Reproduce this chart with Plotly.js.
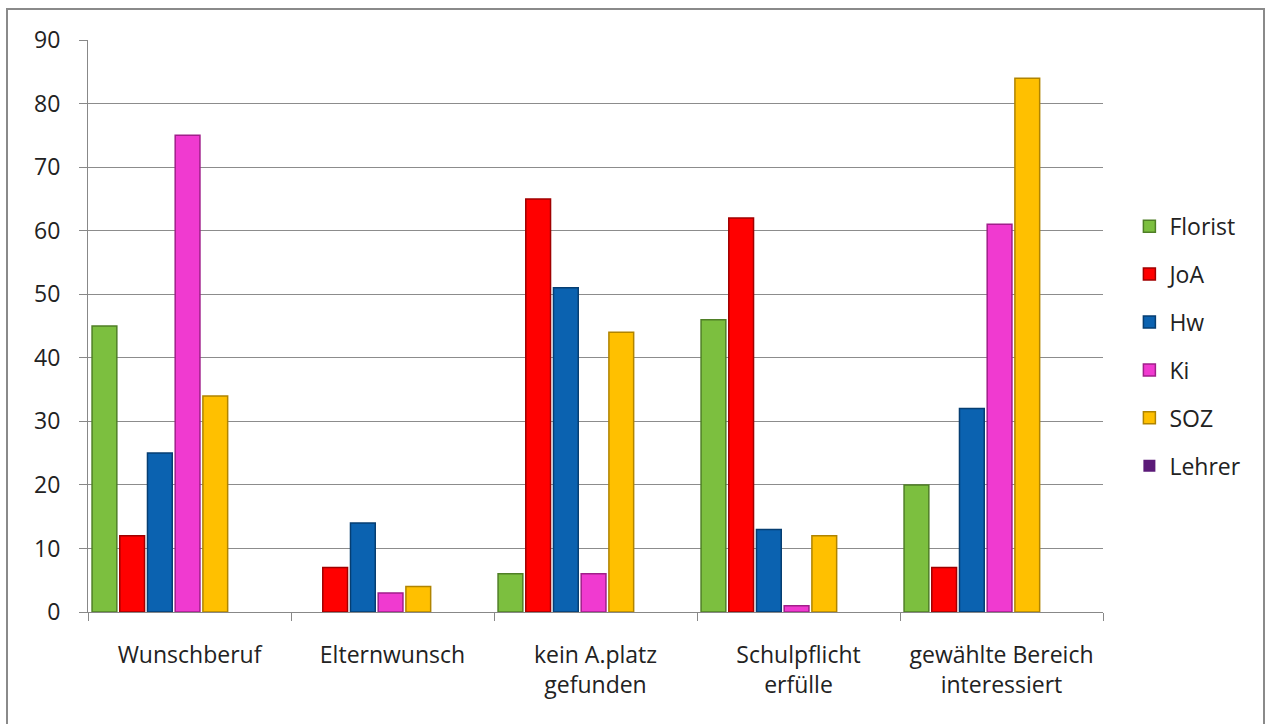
<!DOCTYPE html>
<html><head><meta charset="utf-8">
<script src="https://cdn.plot.ly/plotly-3.0.1.min.js"></script>
<style>
html,body{margin:0;padding:0;background:#fff;overflow:hidden;}
#chart{width:1266px;height:724px;}
#frame{position:absolute;left:6px;top:8px;width:1259px;height:740px;border:2px solid #8a8a8a;pointer-events:none;box-sizing:border-box;}
</style></head><body>
<div id="chart"></div>
<div id="frame"></div>
<script>
const categories = ["Wunschberuf", "Elternwunsch", "kein A.platz<br>gefunden", "Schulpflicht<br>erfülle", "gewählte Bereich<br>interessiert"];
const seriesNames = ["Florist", "JoA", "Hw", "Ki", "SOZ", "Lehrer"];
const florist = [45, 0, 6, 46, 20];
const joa     = [12, 7, 65, 62, 7];
const hw      = [25, 14, 51, 13, 32];
const ki      = [75, 3, 6, 1, 61];
const soz     = [34, 4, 44, 12, 84];
const lehrer  = [0, 0, 0, 0, 0];
const seriesValues = [florist, joa, hw, ki, soz, lehrer];
const fillColors = ["#7cbf3f", "#ff0000", "#0b62b0", "#f03ad0", "#ffc000", "#5b1a78"];
const lineColors = ["#4f7f26", "#a00000", "#063e72", "#a01f8a", "#b08400", "#3a0f4e"];

const barW = 0.122, step = 0.1365, start = -0.48;
const traces = seriesNames.map((n, i) => ({
  type: "bar", name: n, x: categories, y: seriesValues[i],
  width: barW, offset: start + i * step,
  marker: {color: fillColors[i],
    line: {color: lineColors[i], width: seriesValues[i].map(v => v > 0 ? 1.5 : 0)}},
  legendgroup: "g" + i, hoverinfo: "x+y+name"
}));

const layout = {
  width: 1266, height: 724,
  margin: {l: 88, r: 163, t: 40, b: 112},
  paper_bgcolor: "#fff", plot_bgcolor: "#fff",
  font: {family: "Open Sans, DejaVu Sans, sans-serif", color: "#222", size: 23},
  showlegend: true,
  legend: {x: 1.026, xanchor: "left", y: 0.712, yanchor: "top",
    font: {size: 23, color: "#222"}, tracegroupgap: 15, itemwidth: 30},
  xaxis: {type: "category", tickson: "boundaries", ticks: "outside", ticklen: 8,
    tickcolor: "#888", showline: true, linecolor: "#888", linewidth: 1,
    showgrid: false, tickfont: {size: 23}, ticklabelstandoff: 22, fixedrange: true},
  yaxis: {range: [0, 90], dtick: 10, ticks: "outside", ticklen: 8, tickcolor: "#888",
    showline: true, linecolor: "#888", linewidth: 1, gridcolor: "#8c8c8c", gridwidth: 1,
    zeroline: false, tickfont: {size: 23}, ticklabelstandoff: 14, fixedrange: true}
};
Plotly.newPlot("chart", traces, layout, {displayModeBar: false});
</script>
</body></html>
